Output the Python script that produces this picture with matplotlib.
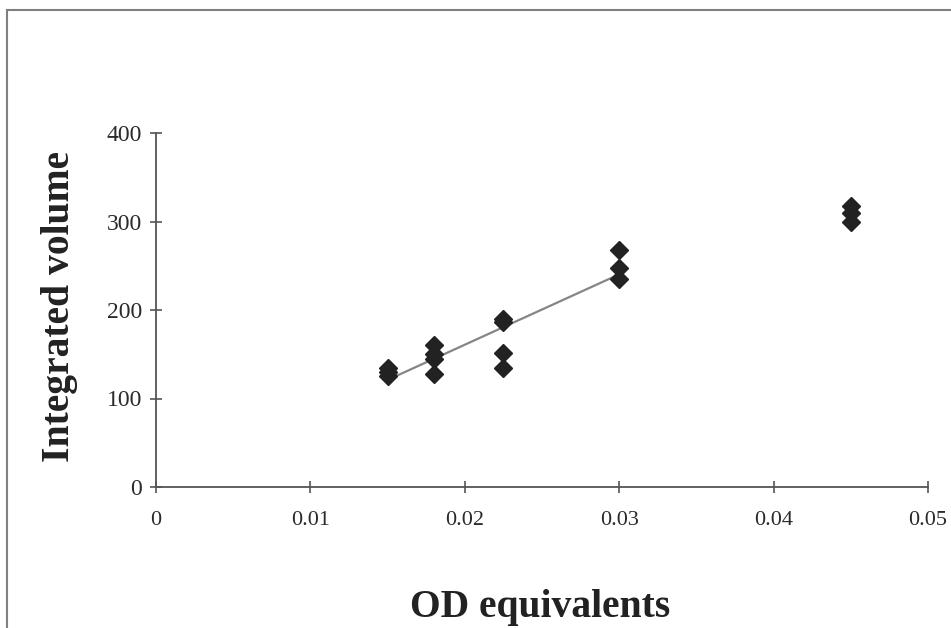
import matplotlib
matplotlib.use("Agg")
import matplotlib.pyplot as plt
import numpy as np
from matplotlib.patches import Rectangle

od = [0.015, 0.015, 0.015,
      0.018, 0.018, 0.018, 0.018,
      0.0225, 0.0225, 0.0225, 0.0225,
      0.030, 0.030, 0.030,
      0.045, 0.045, 0.045]
volume = [125, 130, 135,
          160, 150, 145, 128,
          190, 187, 151, 135,
          268, 247, 235,
          317, 310, 300]

fit_x = [0.015, 0.030]
x_ticks = [0, 0.01, 0.02, 0.03, 0.04, 0.05]
x_tick_labels = ["0", "0.01", "0.02", "0.03", "0.04", "0.05"]
y_ticks = [0, 100, 200, 300, 400]

plt.rcParams['font.family'] = ['Liberation Serif', 'DejaVu Serif']

fig = plt.figure(figsize=(9.51, 6.28), dpi=100)
fig.patch.set_facecolor('white')
fig.patches.append(Rectangle((7/951, -0.1), 1.2, (628-10)/628 + 0.1, transform=fig.transFigure,
                             fill=False, edgecolor='#808080', linewidth=1.5))

ax = fig.add_axes([156/951, (628-487)/628, (928-156)/951, (487-133)/628])

# linear trend over the 0.015-0.03 range
xs = np.array([x for x in od if x <= 0.03])
ys = np.array([v for x, v in zip(od, volume) if x <= 0.03])
m, b = np.polyfit(xs, ys, 1)
fx = np.array(fit_x)
ax.plot(fx, m * fx + b, color='#858585', linewidth=1.6, zorder=2)

ax.plot(od, volume, linestyle='none', marker='D', markersize=9.5,
        color='#222222', zorder=3)

ax.set_xlim(0, 0.05)
ax.set_ylim(0, 400)
ax.set_xticks(x_ticks)
ax.set_xticklabels(x_tick_labels)
ax.set_yticks(y_ticks)

for s in ['top', 'right']:
    ax.spines[s].set_visible(False)
for s in ['left', 'bottom']:
    ax.spines[s].set_color('#555555')
    ax.spines[s].set_linewidth(1.3)

ax.tick_params(axis='both', direction='inout', length=8, width=1.2, color='#555555',
               labelcolor='#2a2a2a')
ax.tick_params(axis='x', pad=13, labelsize=16)
ax.tick_params(axis='y', pad=6, labelsize=17)

ax.set_xlabel('OD equivalents', fontsize=28.5, fontweight='bold', color='#222222')
ax.set_ylabel('Integrated volume', fontsize=28.5, fontweight='bold', color='#222222')
ax.xaxis.set_label_coords((540-156)/(928-156), -(607-487)/(487-133), transform=ax.transAxes)
ax.yaxis.set_label_coords(-(156-60)/(928-156), (487-306)/(487-133), transform=ax.transAxes)
ax.xaxis.label.set_va('center')
ax.yaxis.label.set_va('center')

fig.savefig('out.png', dpi=100, facecolor='white')
